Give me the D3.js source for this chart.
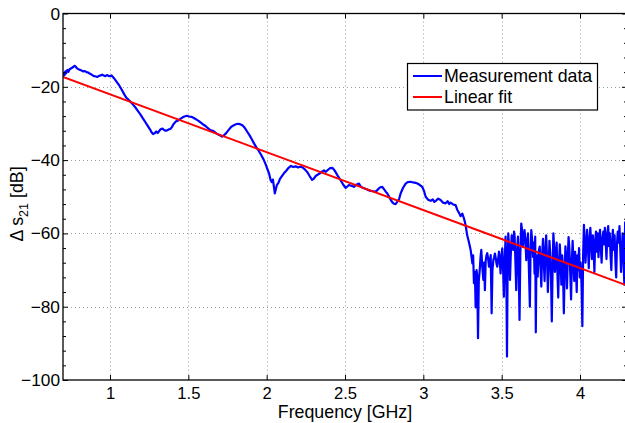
<!DOCTYPE html>
<html><head><meta charset="utf-8">
<script src="https://cdn.jsdelivr.net/npm/d3@7"></script>
<style>
body{margin:0;background:#fff}
svg{display:block}
text{font-family:"Liberation Sans",Arial,Helvetica,sans-serif;fill:#000}
</style>
</head><body>
<svg id="chart" width="625" height="423"></svg>
<script>
// ---------- data ----------
const freqGHz = [
0.700,0.705,0.710,0.715,0.720,0.728,0.735,0.742,0.750,0.758,
0.765,0.772,0.780,0.788,0.795,0.803,0.812,0.820,0.830,0.840,
0.850,0.860,0.870,0.880,0.890,0.900,0.910,0.920,0.930,0.940,
0.950,0.960,0.970,0.980,0.990,1.000,1.010,1.020,1.030,1.045,
1.060,1.075,1.090,1.105,1.120,1.135,1.150,1.165,1.180,1.195,
1.210,1.225,1.240,1.255,1.265,1.275,1.285,1.295,1.305,1.315,
1.325,1.335,1.345,1.355,1.365,1.375,1.385,1.395,1.405,1.420,
1.435,1.450,1.462,1.475,1.490,1.505,1.520,1.535,1.550,1.565,
1.580,1.595,1.610,1.625,1.640,1.655,1.670,1.685,1.700,1.715,
1.728,1.740,1.755,1.770,1.785,1.800,1.815,1.830,1.845,1.860,
1.875,1.890,1.905,1.920,1.935,1.950,1.965,1.980,1.995,2.005,
2.015,2.025,2.032,2.040,2.047,2.052,2.058,2.065,2.075,2.085,
2.095,2.110,2.125,2.140,2.155,2.170,2.185,2.200,2.215,2.230,
2.245,2.260,2.275,2.290,2.300,2.312,2.325,2.340,2.355,2.366,
2.378,2.390,2.405,2.419,2.430,2.440,2.455,2.472,2.490,2.504,
2.515,2.525,2.540,2.557,2.572,2.589,2.600,2.610,2.620,2.635,
2.650,2.664,2.680,2.696,2.710,2.725,2.738,2.750,2.760,2.770,
2.785,2.800,2.812,2.823,2.834,2.845,2.855,2.870,2.887,2.900,
2.919,2.935,2.950,2.962,2.978,2.993,3.005,3.015,3.030,3.047,
3.060,3.070,3.080,3.095,3.110,3.125,3.142,3.155,3.165,3.174,
3.190,3.206,3.217,3.228,3.238,3.249,3.260,3.270,3.280,3.290,
3.302,3.313,
3.318,3.323,3.329,3.334,3.340,3.344,3.349,3.354,3.360,3.365,
3.370,3.376,3.383,3.388,3.393,3.398,3.403,3.408,3.414,3.419,
3.425,3.430,3.436,3.441,3.447,3.452,3.457,3.463,3.468,3.472,
3.478,3.483,3.488,3.493,3.499,3.504,3.509,3.514,3.519,3.525,
3.530,3.534,3.538,3.542,3.548,3.553,3.558,3.564,3.569,3.574,
3.579,3.583,3.588,3.593,3.598,3.604,3.609,3.614,3.619,3.625,
3.630,3.636,3.641,3.646,3.652,3.657,3.662,3.668,3.674,3.680,
3.684,3.689,3.695,3.700,3.705,3.710,3.714,3.718,3.722,3.730,
3.736,3.743,3.748,3.753,3.758,3.764,3.769,3.774,3.779,3.784,
3.789,3.795,3.800,3.805,3.810,3.815,3.820,3.825,3.830,3.835,
3.840,3.845,3.851,3.856,3.861,3.866,3.871,3.876,3.881,3.886,
3.891,3.897,3.902,3.907,3.912,3.917,3.922,3.927,3.932,3.938,
3.943,3.948,3.953,3.958,3.963,3.969,3.974,3.979,3.984,3.989,
3.994,3.999,4.004,4.010,4.015,4.020,4.025,4.030,4.035,4.040,
4.045,4.051,4.056,4.061,4.066,4.071,4.076,4.082,4.087,4.092,
4.097,4.102,4.107,4.112,4.118,4.123,4.128,4.133,4.138,4.143,
4.149,4.154,4.159,4.164,4.169,4.174,4.180,4.185,4.190,4.195,
4.200,4.205,4.210,4.216,4.221,4.226,4.231,4.236,4.241,4.247,
4.252,4.257,4.262,4.267,4.272,4.277,4.283,4.288,4.294,4.300
];
const s21dB = [
-17.0,-16.2,-16.8,-15.8,-16.3,-15.4,-15.9,-15.2,-15.0,-14.8,
-14.6,-14.3,-14.4,-14.9,-15.1,-15.3,-15.4,-15.6,-15.8,-15.7,
-16.0,-16.1,-16.4,-16.6,-16.9,-17.1,-17.2,-17.3,-17.0,-16.9,
-16.7,-16.9,-17.1,-16.8,-17.0,-17.1,-16.9,-17.4,-17.9,-18.8,
-19.7,-20.8,-22.0,-23.0,-23.6,-24.3,-25.0,-25.8,-26.7,-27.6,
-28.6,-29.6,-30.6,-31.6,-32.4,-32.9,-32.7,-32.2,-32.6,-32.0,
-31.5,-31.4,-31.8,-32.0,-31.9,-31.6,-31.5,-31.0,-30.2,-29.5,
-29.2,-28.7,-28.4,-28.1,-27.9,-28.1,-28.2,-28.5,-28.9,-29.3,
-29.8,-30.3,-30.7,-31.3,-31.8,-32.0,-32.4,-32.9,-33.2,-33.6,
-33.2,-32.7,-31.9,-31.1,-30.6,-30.3,-30.1,-30.2,-30.5,-31.2,
-32.2,-33.2,-34.3,-35.5,-36.6,-37.5,-38.6,-39.8,-41.3,-42.5,
-43.6,-45.4,-46.0,-45.3,-47.5,-49.1,-48.0,-46.8,-46.2,-45.1,
-44.5,-43.6,-42.9,-42.1,-41.6,-41.9,-41.7,-42.0,-41.8,-42.0,
-42.6,-43.3,-44.4,-45.4,-45.1,-44.4,-44.0,-43.6,-43.1,-42.8,
-43.2,-42.7,-42.2,-42.1,-42.6,-43.3,-44.4,-45.5,-46.8,-47.6,
-47.2,-46.8,-47.0,-47.3,-46.7,-46.4,-47.2,-47.5,-47.7,-47.9,
-48.2,-48.4,-48.5,-48.6,-48.0,-47.4,-47.3,-48.0,-48.6,-49.1,
-50.3,-51.4,-51.9,-52.0,-51.3,-50.7,-49.1,-47.6,-46.4,-46.0,
-45.9,-46.1,-46.2,-46.4,-46.8,-47.3,-48.5,-50.0,-50.8,-51.1,
-50.7,-51.4,-51.1,-50.5,-50.9,-51.6,-51.8,-51.2,-52.0,-51.6,
-52.1,-52.3,-53.6,-54.4,-55.3,-54.6,-56.0,-57.8,-60.5,-62.2,
-64.5,-68.2,
-66.0,-73.6,-70.5,-80.2,-70.0,-72.0,-88.6,-73.0,-70.0,-66.5,
-64.5,-69.0,-72.7,-68.0,-75.5,-67.5,-66.0,-65.4,-67.0,-69.1,
-67.5,-65.9,-81.8,-70.0,-67.3,-66.5,-65.5,-67.0,-68.5,-69.1,
-66.8,-65.0,-67.5,-70.9,-66.0,-64.1,-69.5,-77.3,-68.0,-60.9,
-72.0,-93.6,-70.0,-60.0,-64.0,-72.7,-66.0,-60.5,-62.5,-64.5,
-59.5,-60.9,-68.0,-75.5,-65.0,-60.9,-70.0,-83.6,-66.0,-57.3,
-59.0,-63.6,-61.5,-59.1,-62.0,-67.3,-63.0,-60.0,-70.0,-80.0,
-66.0,-59.1,-62.0,-66.4,-62.5,-71.0,-60.9,-87.0,-66.0,-71.8,
-65.0,-63.6,-69.0,-74.5,-66.0,-61.5,-68.0,-73.0,-64.5,-60.5,
-66.0,-76.0,-69.0,-62.0,-65.5,-72.0,-84.0,-70.0,-60.0,-64.0,
-70.5,-66.0,-62.5,-71.0,-77.5,-68.5,-63.0,-67.0,-74.0,-66.0,
-69.5,-81.8,-70.0,-63.5,-67.0,-75.0,-66.5,-61.0,-64.0,-71.0,
-78.0,-67.5,-62.0,-68.0,-73.0,-65.0,-69.5,-76.0,-66.0,-70.0,
-64.0,-72.0,-68.0,-74.0,-85.3,-66.0,-57.7,-62.0,-68.0,-63.5,
-59.0,-64.0,-69.5,-61.5,-58.5,-63.0,-67.0,-60.5,-64.5,-70.5,
-62.0,-59.5,-65.0,-60.0,-66.5,-61.0,-59.0,-64.0,-68.0,-61.5,
-59.5,-63.0,-58.5,-62.0,-67.0,-60.5,-58.0,-63.5,-60.0,-66.0,
-70.0,-62.0,-59.0,-64.5,-60.5,-67.5,-72.0,-63.0,-59.5,-62.5,
-58.0,-64.0,-70.5,-65.0,-60.0,-66.0,-74.0,-57.0,-62.0,-60.0
];
const fitFreq = [0.7, 4.3];
const fitDB = [-17.3, -74.2];
const xTickValues = [1, 1.5, 2, 2.5, 3, 3.5, 4];
const yTickValues = [0, -20, -40, -60, -80, -100];
const yMinorTickValues = [-4,-8,-12,-16,-24,-28,-32,-36,-44,-48,-52,-56,-64,-68,-72,-76,-84,-88,-92,-96];
const seriesNames = ["Measurement data", "Linear fit"];
const seriesColors = ["#0000ff", "#ff0000"];
const xTitle = "Frequency [GHz]";

// ---------- layout ----------
const svg = d3.select("#chart");
const L = 63, R = 627, T = 13.5, B = 380;
const x = d3.scaleLinear().domain([0.7, 4.3]).range([L, R]);
const y = d3.scaleLinear().domain([-100, 0]).range([B, T]);
const FS = 17.3;
const XFS = 16.6;
const TFS = 17.8;

// grid
const grid = svg.append("g").attr("stroke", "#a0a0a0").attr("stroke-width", 1).attr("stroke-dasharray", "1,3");
grid.selectAll("line.vx").data(xTickValues).join("line")
  .attr("x1", d => Math.round(x(d)) + 0.5).attr("x2", d => Math.round(x(d)) + 0.5)
  .attr("y1", T).attr("y2", B);
grid.selectAll("line.hy").data(yTickValues.filter(d => d !== 0 && d !== -100)).join("line")
  .attr("y1", d => Math.round(y(d)) + 0.5).attr("y2", d => Math.round(y(d)) + 0.5)
  .attr("x1", L).attr("x2", R);

// clip
svg.append("clipPath").attr("id", "clip").append("rect")
  .attr("x", L).attr("y", T).attr("width", R - L).attr("height", B - T);

const pts = freqGHz.map((f, i) => [f, s21dB[i]]);
const line = d3.line().x(d => x(d[0])).y(d => y(d[1]));
const plot = svg.append("g").attr("clip-path", "url(#clip)");
plot.append("path").datum(pts).attr("d", line)
  .attr("fill", "none").attr("stroke", seriesColors[0]).attr("stroke-width", 2.2).attr("stroke-linejoin", "round");
plot.append("path").datum(fitFreq.map((f, i) => [f, fitDB[i]])).attr("d", line)
  .attr("fill", "none").attr("stroke", seriesColors[1]).attr("stroke-width", 2);

// axes
function styleAxis(size) {
  return g => {
    g.select(".domain").remove();
    g.selectAll(".tick line").attr("stroke", "#000").attr("stroke-width", 1);
    g.selectAll("text").attr("font-size", size).attr("fill", "#000")
      .attr("font-family", "'Liberation Sans',Arial,Helvetica,sans-serif");
  };
}
const fmtX = d => String(d);
const fmtY = d => d < 0 ? "\u2212" + Math.abs(d) : String(d);

svg.append("g").attr("transform", `translate(0,${B})`)
  .call(d3.axisBottom(x).tickValues(xTickValues).tickFormat(fmtX).tickSize(-5).tickPadding(7))
  .call(styleAxis(XFS));
svg.append("g").attr("transform", `translate(0,${T})`)
  .call(d3.axisTop(x).tickValues(xTickValues).tickFormat("").tickSize(-5))
  .call(styleAxis(FS));
svg.append("g").attr("transform", `translate(${L},0)`)
  .call(d3.axisLeft(y).tickValues(yTickValues).tickFormat(fmtY).tickSize(-5).tickPadding(3))
  .call(styleAxis(FS));
svg.append("g").attr("transform", `translate(${L},0)`)
  .call(d3.axisLeft(y).tickValues(yMinorTickValues).tickFormat("").tickSize(-3))
  .call(styleAxis(FS));
svg.append("g").attr("transform", `translate(${R},0)`)
  .call(d3.axisRight(y).tickValues(yTickValues).tickFormat("").tickSize(-5))
  .call(styleAxis(FS));
svg.append("g").attr("transform", `translate(${R},0)`)
  .call(d3.axisRight(y).tickValues(yMinorTickValues).tickFormat("").tickSize(-3))
  .call(styleAxis(FS));

// box
svg.append("rect").attr("x", L).attr("y", T).attr("width", R - L).attr("height", B - T)
  .attr("fill", "none").attr("stroke", "#000").attr("stroke-width", 1.3);

// axis titles
svg.append("text").attr("x", (L + R) / 2).attr("y", 417.5).attr("text-anchor", "middle")
  .attr("font-size", TFS).text(xTitle);
const yt = svg.append("text").attr("transform", "translate(23,204) rotate(-90)")
  .attr("text-anchor", "middle").attr("font-size", TFS);
yt.append("tspan").text("\u0394 s");
yt.append("tspan").attr("font-size", 12.5).attr("dy", 5).text("21");
yt.append("tspan").attr("dy", -5).text(" [dB]");

// legend
const lg = svg.append("g");
lg.append("rect").attr("x", 407.5).attr("y", 63.5).attr("width", 190).attr("height", 46.5)
  .attr("fill", "#fff").attr("stroke", "#000").attr("stroke-width", 1.2);
seriesNames.forEach((name, i) => {
  const cy = 76 + i * 21;
  lg.append("line").attr("x1", 413).attr("x2", 442).attr("y1", cy).attr("y2", cy)
    .attr("stroke", seriesColors[i]).attr("stroke-width", 2);
  lg.append("text").attr("x", 444).attr("y", cy + 6).attr("font-size", TFS).text(name);
});
</script>
</body></html>
